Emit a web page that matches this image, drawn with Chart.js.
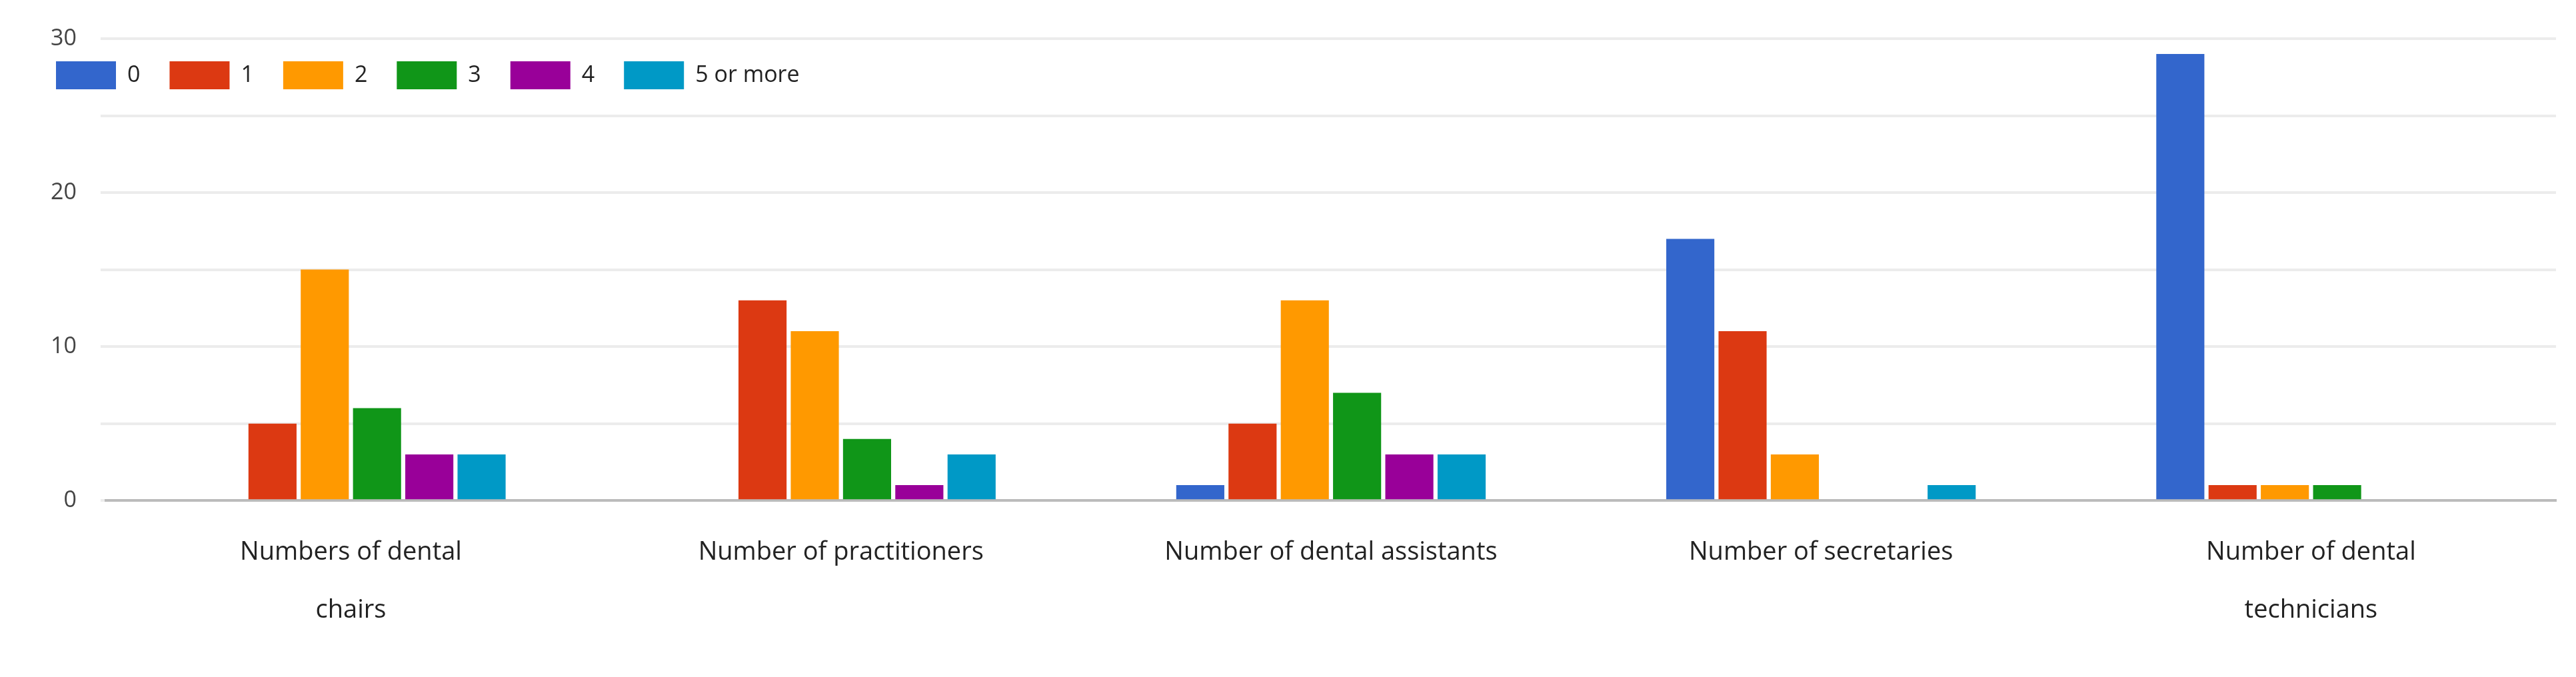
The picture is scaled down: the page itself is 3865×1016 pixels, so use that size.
<!DOCTYPE html>
<html>
<head>
<meta charset="utf-8">
<script src="https://cdn.jsdelivr.net/npm/chart.js@4.4.0/dist/chart.umd.min.js"></script>
<style>
  html, body { margin: 0; padding: 0; background: #fff; }
  #wrap { width: 3865px; height: 1016px; }
</style>
</head>
<body>
<div id="wrap"><canvas id="staffChart"></canvas></div>
<script>
const categories = [
    ['Numbers of dental', 'chairs'],
    'Number of practitioners',
    'Number of dental assistants',
    'Number of secretaries',
    ['Number of dental', 'technicians']
];
const seriesNames = ['0', '1', '2', '3', '4', '5 or more'];
const seriesColors = ['#3366cc', '#dc3912', '#ff9900', '#109618', '#990099', '#0099c6'];
const count0 = [0, 0, 1, 17, 29];
const count1 = [5, 13, 5, 11, 1];
const count2 = [15, 11, 13, 3, 1];
const count3 = [6, 4, 7, 0, 1];
const count4 = [3, 1, 3, 0, 0];
const count5plus = [3, 3, 3, 1, 0];
const yTicks = [0, 10, 20, 30];

const seriesValues = [count0, count1, count2, count3, count4, count5plus];

// legend sits over the top of the plot: shrink it for layout, restore it for drawing
const legendOverlay = {
    id: 'legendOverlay',
    afterInit(chart) {
        const legend = chart.legend;
        const orig = legend.fit;
        legend.fit = function () {
            orig.call(this);
            this._realHeight = this.height;
            this.height = 10;
        };
    },
    afterLayout(chart) {
        const legend = chart.legend;
        if (legend._realHeight) {
            legend.height = legend._realHeight;
            legend.bottom = legend.top + legend.height;
        }
    }
};

const ctx = document.getElementById('staffChart').getContext('2d');
const chart = new Chart(ctx, {
    type: 'bar',
    data: {
        labels: categories,
        datasets: seriesNames.map((name, i) => ({
            label: name,
            data: seriesValues[i],
            backgroundColor: seriesColors[i],
            barPercentage: 0.92,
            categoryPercentage: 0.64
        }))
    },
    options: {
        responsive: true,
        maintainAspectRatio: false,
        animation: false,
        layout: { padding: { top: 48, right: 30, left: 40, bottom: 30 } },
        plugins: {
            legend: {
                position: 'top',
                align: 'start',
                labels: {
                    boxWidth: 90,
                    boxHeight: 42,
                    padding: 44,
                    color: '#222',
                    font: { family: 'Open Sans', size: 34 }
                }
            },
            tooltip: { enabled: false }
        },
        scales: {
            x: {
                grid: { display: false },
                border: { color: '#bbb', width: 4 },
                ticks: {
                    color: '#222',
                    font: { family: 'Open Sans', size: 38, lineHeight: 2.3 },
                    maxRotation: 0,
                    padding: 26
                }
            },
            y: {
                min: 0,
                max: 30,
                grid: { color: '#ececec', lineWidth: 4 },
                border: { display: false },
                ticks: {
                    stepSize: 5,
                    color: '#444',
                    font: { family: 'Open Sans', size: 34 },
                    padding: 36,
                    callback: v => yTicks.includes(v) ? v : ''
                }
            }
        }
    },
    plugins: [legendOverlay]
});
</script>
</body>
</html>
